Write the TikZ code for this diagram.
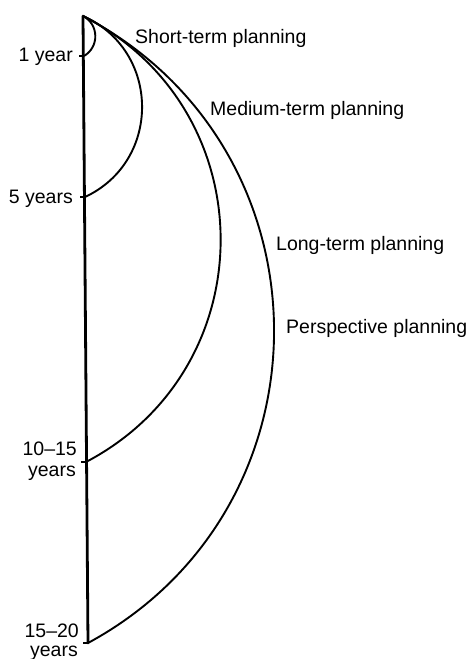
\documentclass[tikz,border=0pt]{standalone}
\usepackage{fontspec}
\setmainfont{Liberation Sans}
\begin{document}
\begin{tikzpicture}[x=1pt,y=-1pt,
  axis/.style={line width=2.8pt},
  plan/.style={line width=1.9pt},
  tickmark/.style={line width=1.4pt},
  lbl/.style={font=\fontsize{19.5}{22}\selectfont, inner sep=0pt},
]
\useasboundingbox (0,0) rectangle (469,659);
\coordinate (top) at (83,16);
\coordinate (t1) at (84,56);
\coordinate (t5) at (85,197);
\coordinate (t10) at (86,462);
\coordinate (t15) at (88,643);
\draw[axis, line cap=round] (top) -- (t15);
\draw[tickmark] (t1) -- ++(-5,0);
\draw[tickmark] (t5) -- ++(-5,0);
\draw[tickmark] (t10) -- ++(-5,0);
\draw[tickmark] (t15) -- ++(-5,0);
\draw[plan] (top) to[bend left=61, looseness=1.15] (t1);
\draw[plan] (top) to[bend left=65.6, looseness=1.2] (t5);
\draw[plan] (top) to[bend left=62.7, looseness=1.17] (t10);
\draw[plan] (top) to[bend left=62, looseness=1.16] (t15);
\node[lbl, anchor=base west] (short) at (135,43) {Short-term planning};
\node[lbl, anchor=base west] (medium) at (210,115) {Medium-term planning};
\node[lbl, anchor=base west] (long) at (276,250) {Long-term planning};
\node[lbl, anchor=base west] (persp) at (286,333) {Perspective planning};
\node[lbl, anchor=base east] (l1) at (73,61) {1 year};
\node[lbl, anchor=base east] (l5) at (73,203) {5 years};
\node[lbl, anchor=base east] (l10a) at (77,455) {10–15};
\node[lbl, anchor=base east] (l10b) at (76,476) {years};
\node[lbl, anchor=base east] (l15a) at (79,637) {15–20};
\node[lbl, anchor=base east] (l15b) at (78,656) {years};
\end{tikzpicture}
\end{document}
